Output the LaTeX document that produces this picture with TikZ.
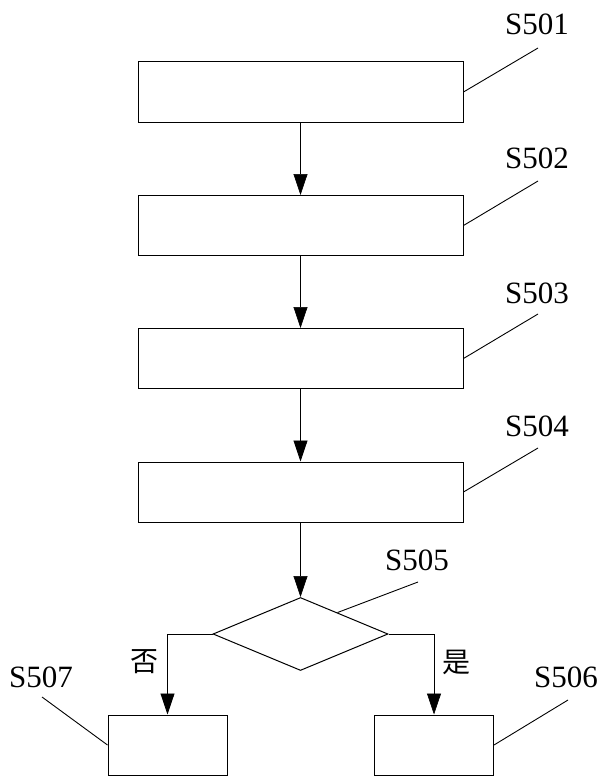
\documentclass[tikz,border=0pt]{standalone}
\usepackage{fontspec}
\setmainfont{Liberation Serif}
\newfontfamily\cjk{Noto Sans CJK SC}
\usetikzlibrary{arrows.meta,positioning,calc,shapes.geometric}

\tikzset{
  stepbox/.style={draw,line width=1pt,minimum width=325pt,minimum height=60pt,inner sep=0pt},
  endbox/.style={draw,line width=1pt,minimum width=119pt,minimum height=60pt,inner sep=0pt},
  testbox/.style={draw,diamond,line width=1pt,minimum width=175pt,minimum height=73pt,inner sep=0pt},
  flow/.style={line width=0.7pt,-{Triangle[length=21pt,width=14pt]}},
  leader/.style={line width=0.9pt},
  steplabel/.style={font=\fontsize{31}{34}\selectfont,inner sep=0pt},
  branch/.style={font=\cjk\fontsize{28}{30}\selectfont,inner sep=0pt}
}

\begin{document}
\begin{tikzpicture}[x=1pt,y=-1pt]
  \useasboundingbox (0,0) rectangle (605,776);
  % main column
  \node[stepbox] (s501) at (300.5,92) {};
  \node[stepbox] (s502) at (300.5,225.5) {};
  \node[stepbox] (s503) at (300.5,358.5) {};
  \node[stepbox] (s504) at (300.5,492) {};
  \node[testbox] (s505) at (300.5,634) {};
  \node[endbox] (s507) at (167.5,745) {};
  \node[endbox] (s506) at (434,745) {};
  % arrows
  \draw[flow] (s501) -- (s502);
  \draw[flow] (s502) -- (s503);
  \draw[flow] (s503) -- (s504);
  \draw[flow] (s504) -- (s505);
  \draw[flow] (s505.west) -| (s507.north);
  \draw[flow] (s505.east) -| (s506.north);
  \node[branch] (no) at (144,662) {否};
  \node[branch] (yes) at (456,662) {是};
  % step labels with leader lines
  \node[steplabel] (l501) at (537,24) {S501};
  \node[steplabel] (l502) at (537,158) {S502};
  \node[steplabel] (l503) at (537,293) {S503};
  \node[steplabel] (l504) at (537,426) {S504};
  \node[steplabel] (l505) at (417,560) {S505};
  \node[steplabel] (l507) at (41,677) {S507};
  \node[steplabel] (l506) at (566,677) {S506};
  \coordinate (e501) at (538,48);
  \coordinate (e502) at (538,181);
  \coordinate (e503) at (538,314);
  \coordinate (e504) at (538,448);
  \coordinate (e505) at (418,582);
  \coordinate (e507) at (42,697);
  \coordinate (e506) at (568,700);
  \draw[leader] (s501.east) -- (e501);
  \draw[leader] (s502.east) -- (e502);
  \draw[leader] (s503.east) -- (e503);
  \draw[leader] (s504.east) -- (e504);
  \draw[leader] ($(s505.north)!0.42!(s505.east)$) -- (e505);
  \draw[leader] (s507.west) -- (e507);
  \draw[leader] (s506.east) -- (e506);
\end{tikzpicture}
\end{document}
